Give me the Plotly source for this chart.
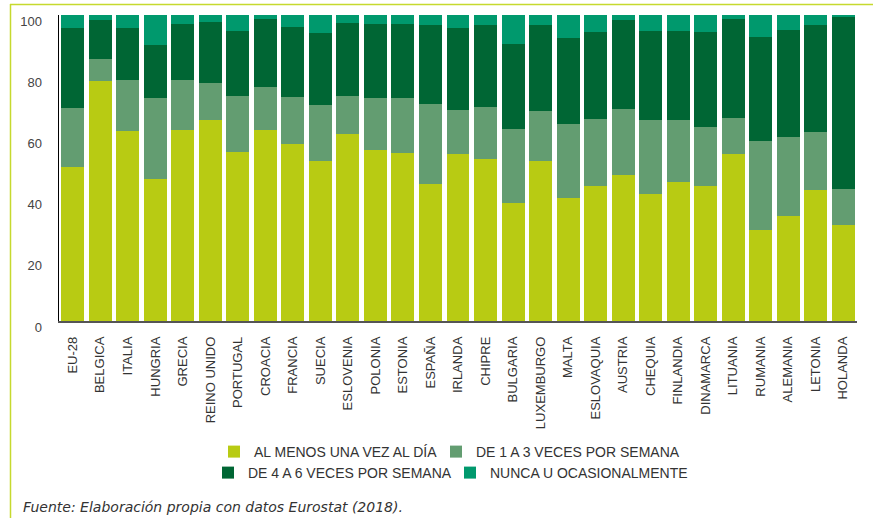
import plotly.graph_objects as go

paises = ["EU-28", "BELGICA", "ITALIA", "HUNGRIA", "GRECIA", "REINO UNIDO", "PORTUGAL",
          "CROACIA", "FRANCIA", "SUECIA", "ESLOVENIA", "POLONIA", "ESTONIA", "ESPAÑA",
          "IRLANDA", "CHIPRE", "BULGARIA", "LUXEMBURGO", "MALTA", "ESLOVAQUIA", "AUSTRIA",
          "CHEQUIA", "FINLANDIA", "DINAMARCA", "LITUANIA", "RUMANIA", "ALEMANIA", "LETONIA",
          "HOLANDA"]

al_menos_diario = [50.3, 78.4, 62.0, 46.3, 62.4, 65.6, 55.2, 62.4, 57.8, 52.2, 61.1, 55.8,
                   54.9, 44.7, 54.5, 52.9, 38.5, 52.2, 40.1, 44.1, 47.7, 41.4, 45.4, 44.1,
                   54.5, 29.7, 34.2, 42.7, 31.3]
de_1_a_3 = [19.3, 7.2, 16.7, 26.5, 16.3, 12.2, 18.3, 14.0, 15.4, 18.4, 12.4, 17.0, 17.9, 26.2,
            14.4, 17.0, 24.2, 16.4, 24.2, 21.9, 21.5, 24.2, 20.2, 19.3, 11.8, 29.1, 25.9,
            19.0, 11.8]
de_4_a_6 = [26.1, 12.8, 17.0, 17.4, 18.4, 19.9, 21.3, 22.3, 22.9, 23.5, 23.9, 24.3, 24.3, 25.8,
            26.8, 26.8, 27.8, 28.1, 28.2, 28.4, 29.2, 29.2, 29.2, 31.0, 32.4, 34.0, 35.0,
            35.0, 56.2]
nunca = [4.3, 1.6, 4.3, 9.8, 2.9, 2.3, 5.2, 1.3, 3.9, 5.9, 2.6, 2.9, 2.9, 3.3, 4.3, 3.3, 9.5,
         3.3, 7.5, 5.6, 1.6, 5.2, 5.2, 5.6, 1.3, 7.2, 4.9, 3.3, 1.0]

nombres = ["AL MENOS UNA VEZ AL DÍA", "DE 1 A 3 VECES POR SEMANA",
           "DE 4 A 6 VECES POR SEMANA", "NUNCA U OCASIONALMENTE"]
colores = ["#b8cb13", "#639d71", "#006634", "#00996d"]
series = [al_menos_diario, de_1_a_3, de_4_a_6, nunca]
leyendas = ["legend", "legend2", "legend3", "legend4"]

FONT = "Liberation Sans, Arial, sans-serif"
fig = go.Figure()
for nombre, valores, color, lg in zip(nombres, series, colores, leyendas):
    fig.add_trace(go.Bar(x=paises, y=valores, name=nombre, marker_color=color,
                         marker_line_width=0, legend=lg))

# plot area geometry (pixels) used for paper-coordinate conversions
L, R, T, B = 59, 16, 15, 197
W, H = 873, 518
pw, ph = W - L - R, H - T - B
def px(x):
    return (x - L) / pw
def py(y):
    return (H - B - y) / ph

frame = "#c6d92e"
leg_common = dict(orientation="h", xanchor="left", yanchor="middle",
                  font=dict(size=14, color="#333"), bgcolor="rgba(0,0,0,0)",
                  traceorder="normal", itemclick=False, tracegroupgap=0)
fig.update_layout(
    width=W, height=H, autosize=False,
    margin=dict(l=L, r=R, t=T, b=B, pad=0, autoexpand=False),
    barmode="stack", bargap=0.165,
    plot_bgcolor="white", paper_bgcolor="white",
    font=dict(family=FONT, size=13, color="#333"),
    xaxis=dict(type="category", tickangle=-90, showgrid=False, ticks="", automargin=False,
               showline=True, linecolor="#555", linewidth=1.5,
               tickfont=dict(size=13, color="#333"), ticklabelstandoff=9,
               range=[-0.5, len(paises) - 0.5]),
    yaxis=dict(range=[0, 100], tickvals=[0, 20, 40, 60, 80, 100], showgrid=False,
               zeroline=False, showline=True, linecolor="black", linewidth=1.5,
               ticks="", automargin=False, tickfont=dict(size=13, color="#444"),
               ticklabelstandoff=13, ticklabelshift=6),
    legend=dict(x=px(214), y=py(452), **leg_common),
    legend2=dict(x=px(436), y=py(452), **leg_common),
    legend3=dict(x=px(208), y=py(473), **leg_common),
    legend4=dict(x=px(450), y=py(473), **leg_common),
    showlegend=True,
)

fig.add_shape(type="line", xref="paper", yref="paper", x0=px(10), x1=px(873),
              y0=py(4.5), y1=py(4.5), line=dict(color=frame, width=1.5))
fig.add_shape(type="line", xref="paper", yref="paper", x0=px(10.5), x1=px(10.5),
              y0=py(4), y1=py(518), line=dict(color=frame, width=1.5))

fig.add_annotation(text="<i>Fuente: Elaboración propia con datos Eurostat (2018).</i>",
                   xref="paper", yref="paper", x=px(21), y=py(507), xanchor="left",
                   yanchor="middle", showarrow=False,
                   font=dict(family="DejaVu Sans, sans-serif", size=14, color="#333"))

fig.write_html("out.html", config={"displayModeBar": False, "staticPlot": True},
               post_script="document.body.style.margin='0';document.body.style.overflow='hidden';")
